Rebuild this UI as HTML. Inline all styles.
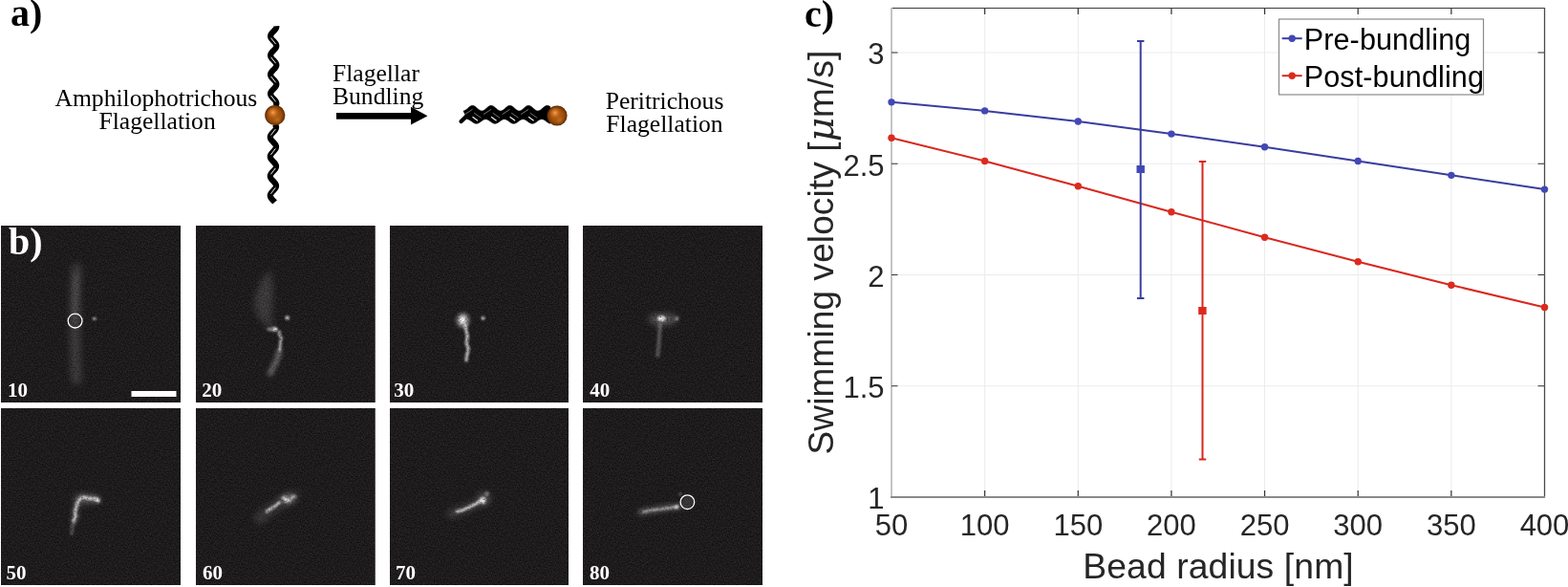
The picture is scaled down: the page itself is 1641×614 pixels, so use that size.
<!DOCTYPE html><html><head><meta charset="utf-8"><style>html,body{margin:0;padding:0;background:#fff}body{width:1641px;height:614px;overflow:hidden;position:relative}svg{position:absolute;left:0;top:0}.ser{font-family:"Liberation Serif","Times New Roman",serif}.san{font-family:"Liberation Sans",Arial,sans-serif}</style></head><body>
<svg width="1641" height="614" viewBox="0 0 1641 614">
<defs><radialGradient id="bead" cx="0.5" cy="0.5" r="0.5"><stop offset="0" stop-color="#b25c12"/><stop offset="0.6" stop-color="#a2500c"/><stop offset="0.85" stop-color="#7e3c06"/><stop offset="1" stop-color="#4e2404"/></radialGradient><radialGradient id="beadhl" cx="0.4" cy="0.36" r="0.3"><stop offset="0" stop-color="#f7a454" stop-opacity="1"/><stop offset="0.5" stop-color="#dd8236" stop-opacity="0.55"/><stop offset="1" stop-color="#c86818" stop-opacity="0"/></radialGradient><radialGradient id="beadlo" cx="0.62" cy="0.72" r="0.22"><stop offset="0" stop-color="#c87a30" stop-opacity="0.6"/><stop offset="1" stop-color="#c87a30" stop-opacity="0"/></radialGradient><filter id="b1" filterUnits="userSpaceOnUse" x="0" y="0" width="1641" height="614"><feGaussianBlur stdDeviation="1"/></filter><filter id="b1s" filterUnits="userSpaceOnUse" x="0" y="0" width="1641" height="614"><feGaussianBlur stdDeviation="0.6"/></filter><filter id="grain" filterUnits="userSpaceOnUse" x="0" y="236" width="800" height="378" color-interpolation-filters="sRGB"><feTurbulence type="fractalNoise" baseFrequency="0.55" numOctaves="2" seed="11" result="t"/><feColorMatrix in="t" type="matrix" values="0 0 0 0 0  0 0 0 0 0  0 0 0 0 0  1.5 0 0 0 0.22" result="m"/><feComposite in="SourceGraphic" in2="m" operator="in"/></filter><filter id="b2" filterUnits="userSpaceOnUse" x="0" y="0" width="1641" height="614"><feGaussianBlur stdDeviation="2"/></filter><filter id="b3" filterUnits="userSpaceOnUse" x="0" y="0" width="1641" height="614"><feGaussianBlur stdDeviation="3.5"/></filter><filter id="b5" filterUnits="userSpaceOnUse" x="0" y="0" width="1641" height="614"><feGaussianBlur stdDeviation="5"/></filter><filter id="noise" color-interpolation-filters="sRGB" x="0" y="0" width="100%" height="100%"><feTurbulence type="fractalNoise" baseFrequency="0.7" numOctaves="2" seed="7"/><feColorMatrix values="0.18 0 0 0 0.025  0.18 0 0 0 0.017  0.18 0 0 0 0.017  0 0 0 0 1"/><feComposite in2="SourceGraphic" operator="in"/></filter></defs>
<g class="ser" fill="#000">
<text x="11" y="27" font-size="40" font-weight="bold">a)</text>
<text x="163.4" y="110.5" font-size="25.6" text-anchor="middle">Amphilophotrichous</text>
<text x="164.6" y="134.5" font-size="25.6" text-anchor="middle">Flagellation</text>
<text x="348" y="85" font-size="25.6">Flagellar</text>
<text x="348" y="109.2" font-size="25.6">Bundling</text>
<text x="695.5" y="114.2" font-size="25.6" text-anchor="middle">Peritrichous</text>
<text x="695.5" y="138.4" font-size="25.6" text-anchor="middle">Flagellation</text>
</g>
<path d="M289.26,27.3 L289.3,27.72 L289.28,28.14 L289.21,28.56 L289.09,28.97 L288.92,29.39 L288.71,29.81 L288.45,30.23 L288.15,30.65 L287.82,31.07 L287.46,31.48 L287.08,31.9 L286.69,32.32 L286.28,32.74 L285.88,33.16 L285.48,33.58 L285.09,34 L284.72,34.41 L284.38,34.83 L284.07,35.25 L283.79,35.67 L283.56,36.09 L283.37,36.51 L283.23,36.93 L283.14,37.34 L283.1,37.76 L283.12,38.18 L283.18,38.6 L283.3,39.02 L283.47,39.44 L283.69,39.86 L283.95,40.27 L284.24,40.69 L284.58,41.11 L284.93,41.53 L285.31,41.95 L285.71,42.37 L286.11,42.78 L286.52,43.2 L286.92,43.62 L287.3,44.04 L287.67,44.46 L288.02,44.88 L288.33,45.3 L288.6,45.71 L288.84,46.13 L289.03,46.55 L289.17,46.97 L289.26,47.39 L289.3,47.81 L289.28,48.23 L289.22,48.64 L289.1,49.06 L288.93,49.48 L288.71,49.9 L288.46,50.32 L288.16,50.74 L287.83,51.15 L287.47,51.57 L287.09,51.99 L286.7,52.41 L286.29,52.83 L285.89,53.25 L285.49,53.67 L285.1,54.08 L284.73,54.5 L284.39,54.92 L284.08,55.34 L283.8,55.76 L283.56,56.18 L283.37,56.59 L283.23,57.01 L283.14,57.43 L283.1,57.85 L283.12,58.27 L283.18,58.69 L283.3,59.11 L283.47,59.52 L283.68,59.94 L283.94,60.36 L284.24,60.78 L284.57,61.2 L284.92,61.62 L285.3,62.04 L285.7,62.45 L286.1,62.87 L286.51,63.29 L286.91,63.71 L287.29,64.13 L287.66,64.55 L288.01,64.97 L288.32,65.38 L288.6,65.8 L288.83,66.22 L289.02,66.64 L289.17,67.06 L289.26,67.48 L289.3,67.89 L289.29,68.31 L289.22,68.73 L289.1,69.15 L288.93,69.57 L288.72,69.99 L288.46,70.41 L288.17,70.82 L287.84,71.24 L287.48,71.66 L287.1,72.08 L286.71,72.5 L286.31,72.92 L285.9,73.33 L285.5,73.75 L285.11,74.17 L284.74,74.59 L284.4,75.01 L284.08,75.43 L283.81,75.85 L283.57,76.26 L283.38,76.68 L283.24,77.1 L283.14,77.52 L283.1,77.94 L283.11,78.36 L283.18,78.78 L283.3,79.19 L283.46,79.61 L283.68,80.03 L283.93,80.45 L284.23,80.87 L284.56,81.29 L284.91,81.7 L285.29,82.12 L285.69,82.54 L286.09,82.96 L286.49,83.38 L286.89,83.8 L287.28,84.22 L287.65,84.63 L288,85.05 L288.31,85.47 L288.59,85.89 L288.83,86.31 L289.02,86.73 L289.16,87.15 L289.26,87.56 L289.3,87.98 L289.29,88.4 L289.22,88.82 L289.11,89.24 L288.94,89.66 L288.73,90.08 L288.47,90.49 L288.18,90.91 L287.85,91.33 L287.49,91.75 L287.11,92.17 L286.72,92.59 L286.32,93 L285.91,93.42 L285.51,93.84 L285.12,94.26 L284.75,94.68 L284.41,95.1 L284.09,95.52 L283.81,95.93 L283.58,96.35 L283.38,96.77 L283.24,97.19 L283.14,97.61 L283.1,98.03 L283.11,98.44 L283.18,98.86 L283.29,99.28 L283.46,99.7 L283.67,100.12 L283.92,100.54 L284.22,100.96 L284.55,101.37 L284.9,101.79 L285.28,102.21 L285.67,102.63 L286.08,103.05 L286.48,103.47 L286.88,103.89 L287.27,104.3 L287.64,104.72 L287.99,105.14 L288.3,105.56 L288.58,105.98 L288.82,106.4 L289.01,106.81 L289.16,107.23 L289.25,107.65 L289.3,108.07 L289.29,108.49 L289.22,108.91 L289.11,109.33 L288.95,109.74 L288.73,110.16 L288.48,110.58 L288.19,111" fill="none" stroke="#000" stroke-width="6.2"/>
<path d="M287.61,130 L287.92,130.41 L288.2,130.81 L288.44,131.22 L288.64,131.63 L288.8,132.04 L288.92,132.44 L288.98,132.85 L289,133.26 L288.97,133.67 L288.89,134.07 L288.76,134.48 L288.59,134.89 L288.38,135.3 L288.12,135.71 L287.83,136.11 L287.52,136.52 L287.17,136.93 L286.81,137.34 L286.43,137.74 L286.04,138.15 L285.65,138.56 L285.27,138.97 L284.89,139.37 L284.54,139.78 L284.2,140.19 L283.89,140.59 L283.61,141 L283.36,141.41 L283.16,141.82 L283,142.22 L282.89,142.63 L282.82,143.04 L282.8,143.45 L282.83,143.85 L282.91,144.26 L283.03,144.67 L283.2,145.08 L283.42,145.49 L283.67,145.89 L283.96,146.3 L284.27,146.71 L284.62,147.12 L284.98,147.52 L285.36,147.93 L285.74,148.34 L286.13,148.75 L286.52,149.15 L286.89,149.56 L287.25,149.97 L287.59,150.38 L287.9,150.78 L288.18,151.19 L288.43,151.6 L288.63,152 L288.79,152.41 L288.91,152.82 L288.98,153.23 L289,153.63 L288.97,154.04 L288.89,154.45 L288.77,154.86 L288.6,155.26 L288.39,155.67 L288.14,156.08 L287.85,156.49 L287.54,156.9 L287.19,157.3 L286.83,157.71 L286.45,158.12 L286.07,158.53 L285.68,158.93 L285.29,159.34 L284.92,159.75 L284.56,160.16 L284.22,160.56 L283.9,160.97 L283.62,161.38 L283.38,161.78 L283.17,162.19 L283.01,162.6 L282.89,163.01 L282.82,163.41 L282.8,163.82 L282.83,164.23 L282.9,164.64 L283.03,165.05 L283.19,165.45 L283.4,165.86 L283.65,166.27 L283.94,166.68 L284.25,167.08 L284.6,167.49 L284.96,167.9 L285.34,168.31 L285.72,168.71 L286.11,169.12 L286.5,169.53 L286.87,169.94 L287.23,170.34 L287.57,170.75 L287.89,171.16 L288.17,171.56 L288.41,171.97 L288.62,172.38 L288.79,172.79 L288.91,173.19 L288.98,173.6 L289,174.01 L288.97,174.42 L288.9,174.82 L288.78,175.23 L288.61,175.64 L288.4,176.05 L288.16,176.45 L287.87,176.86 L287.56,177.27 L287.22,177.68 L286.85,178.09 L286.48,178.49 L286.09,178.9 L285.7,179.31 L285.32,179.72 L284.94,180.12 L284.58,180.53 L284.24,180.94 L283.92,181.34 L283.64,181.75 L283.39,182.16 L283.18,182.57 L283.02,182.97 L282.9,183.38 L282.82,183.79 L282.8,184.2 L282.82,184.6 L282.9,185.01 L283.02,185.42 L283.18,185.83 L283.39,186.24 L283.64,186.64 L283.92,187.05 L284.23,187.46 L284.57,187.87 L284.94,188.27 L285.31,188.68 L285.7,189.09 L286.09,189.5 L286.47,189.9 L286.85,190.31 L287.21,190.72 L287.55,191.12 L287.87,191.53 L288.15,191.94 L288.4,192.35 L288.61,192.75 L288.78,193.16 L288.9,193.57 L288.97,193.98 L289,194.38 L288.98,194.79 L288.91,195.2 L288.79,195.61 L288.62,196.01 L288.42,196.42 L288.17,196.83 L287.89,197.24 L287.58,197.64 L287.24,198.05 L286.88,198.46 L286.5,198.87 L286.11,199.28 L285.73,199.68 L285.34,200.09 L284.96,200.5 L284.6,200.91 L284.26,201.31 L283.94,201.72 L283.66,202.13 L283.41,202.53 L283.2,202.94 L283.03,203.35 L282.9,203.76 L282.83,204.17 L282.8,204.57 L282.82,204.98 L282.89,205.39 L283.01,205.8 L283.17,206.2 L283.38,206.61 L283.62,207.02 L283.9,207.43 L284.21,207.83 L284.55,208.24 L284.91,208.65 L285.29,209.06 L285.67,209.46 L286.06,209.87 L286.45,210.28 L286.83,210.69 L287.19,211.09 L287.53,211.5" fill="none" stroke="#000" stroke-width="6.2"/>
<path d="M283.6,39.7 L288.6,46.1 M283.6,59.8 L288.6,66.2 M283.6,79.9 L288.6,86.3 M283.6,100 L288.6,106.4 M288.3,135.1 L283.4,141.5 M288.3,155.5 L283.4,161.9 M288.3,175.9 L283.4,182.3 M288.3,196.3 L283.4,202.7" stroke="#fff" stroke-width="1" fill="none" opacity="0.95"/>
<g><circle cx="287.8" cy="120.6" r="10.6" fill="url(#bead)"/><circle cx="287.8" cy="120.6" r="10.6" fill="url(#beadlo)"/><circle cx="287.8" cy="120.6" r="10.6" fill="url(#beadhl)"/></g>
<rect x="352" y="118" width="79" height="6.7" fill="#000"/>
<polygon points="430,111.7 447.5,121.3 430,130.5" fill="#000"/>
<path d="M485,115.99 L485.76,115.85 L486.52,115.55 L487.27,115.11 L488.03,114.56 L488.79,113.93 L489.55,113.26 L490.31,112.58 L491.07,111.94 L491.82,111.37 L492.58,110.91 L493.34,110.59 L494.1,110.42 L494.86,110.42 L495.62,110.58 L496.38,110.89 L497.13,111.34 L497.89,111.91 L498.65,112.54 L499.41,113.22 L500.17,113.89 L500.93,114.53 L501.68,115.08 L502.44,115.53 L503.2,115.83 L503.96,115.99 L504.72,115.97 L505.48,115.79 L506.23,115.46 L506.99,115 L507.75,114.43 L508.51,113.78 L509.27,113.11 L510.02,112.43 L510.78,111.81 L511.54,111.26 L512.3,110.83 L513.06,110.54 L513.82,110.41 L514.58,110.44 L515.33,110.63 L516.09,110.98 L516.85,111.46 L517.61,112.04 L518.37,112.69 L519.12,113.37 L519.88,114.04 L520.64,114.66 L521.4,115.19 L522.16,115.61 L522.92,115.88 L523.67,116 L524.43,115.95 L525.19,115.73 L525.95,115.37 L526.71,114.88 L527.47,114.29 L528.23,113.64 L528.98,112.96 L529.74,112.29 L530.5,111.68 L531.26,111.16 L532.02,110.75 L532.77,110.5 L533.53,110.4 L534.29,110.47 L535.05,110.7 L535.81,111.08 L536.57,111.58 L537.33,112.18 L538.08,112.84 L538.84,113.52 L539.6,114.18 L540.36,114.78 L541.12,115.29 L541.88,115.68 L542.63,115.92 L543.39,116 L544.15,115.91 L544.91,115.67 L545.67,115.27 L546.42,114.76 L547.18,114.15 L547.94,113.49 L548.7,112.81 L549.46,112.15 L550.22,111.55 L550.98,111.06 L551.73,110.69 L552.49,110.46 L553.25,110.4 L554.01,110.51 L554.77,110.77 L555.52,111.18 L556.28,111.7 L557.04,112.32 L557.8,112.99 L558.56,113.67 L559.32,114.32 L560.08,114.91 L560.83,115.39 L561.59,115.75 L562.35,115.95 L563.11,116 L563.87,115.87 L564.62,115.59 L565.38,115.17 L566.14,114.63 L566.9,114.01 L567.66,113.34 L568.42,112.66 L569.17,112.01 L569.93,111.44 L570.69,110.96 L571.45,110.62 L572.21,110.43 L572.97,110.41 L573.73,110.55 L574.48,110.85 L575.24,111.28 L576,111.83 L576,129.24 L575.27,129.06 L574.55,128.77 L573.83,128.39 L573.1,127.92 L572.38,127.41 L571.65,126.88 L570.92,126.35 L570.2,125.86 L569.48,125.43 L568.75,125.08 L568.02,124.84 L567.3,124.72 L566.58,124.71 L565.85,124.84 L565.12,125.07 L564.4,125.42 L563.67,125.84 L562.95,126.34 L562.23,126.86 L561.5,127.4 L560.77,127.91 L560.05,128.37 L559.33,128.76 L558.6,129.05 L557.88,129.24 L557.15,129.3 L556.42,129.24 L555.7,129.05 L554.98,128.76 L554.25,128.37 L553.52,127.91 L552.8,127.4 L552.08,126.86 L551.35,126.34 L550.62,125.84 L549.9,125.42 L549.17,125.07 L548.45,124.84 L547.73,124.71 L547,124.72 L546.27,124.84 L545.55,125.08 L544.83,125.43 L544.1,125.86 L543.38,126.35 L542.65,126.88 L541.92,127.41 L541.2,127.92 L540.48,128.39 L539.75,128.77 L539.02,129.06 L538.3,129.24 L537.58,129.3 L536.85,129.23 L536.12,129.05 L535.4,128.75 L534.67,128.36 L533.95,127.89 L533.23,127.38 L532.5,126.84 L531.77,126.32 L531.05,125.83 L530.33,125.4 L529.6,125.06 L528.88,124.83 L528.15,124.71 L527.42,124.72 L526.7,124.85 L525.98,125.09 L525.25,125.44 L524.52,125.88 L523.8,126.37 L523.08,126.9 L522.35,127.43 L521.62,127.94 L520.9,128.4 L520.17,128.78 L519.45,129.07 L518.73,129.25 L518,129.3 L517.27,129.23 L516.55,129.04 L515.83,128.74 L515.1,128.34 L514.38,127.87 L513.65,127.36 L512.92,126.82 L512.2,126.3 L511.48,125.81 L510.75,125.39 L510.02,125.05 L509.3,124.82 L508.57,124.71 L507.85,124.72 L507.12,124.86 L506.4,125.11 L505.68,125.46 L504.95,125.89 L504.23,126.39 L503.5,126.92 L502.77,127.45 L502.05,127.96 L501.32,128.42 L500.6,128.8 L499.88,129.08 L499.15,129.25 L498.43,129.3 L497.7,129.22 L496.98,129.03 L496.25,128.72 L495.52,128.33 L494.8,127.86 L494.07,127.34 L493.35,126.81 L492.62,126.28 L491.9,125.8 L491.18,125.38 L490.45,125.04 L489.73,124.82 L489,124.71Z" fill="#000" stroke="#000" stroke-width="0.6" stroke-linejoin="round"/>
<path d="M482.6,127 L488.5,121.3" stroke="#000" stroke-width="4.4" stroke-linecap="round" fill="none"/>
<path d="M486.5,119.6 L494.5,114.4 M496.2,118.2 L503.5,123.3 M506.05,119.6 L514.05,114.4 M515.75,118.2 L523.05,123.3 M525.6,119.6 L533.6,114.4 M535.3,118.2 L542.6,123.3 M545.15,119.6 L553.15,114.4 M554.85,118.2 L562.15,123.3" stroke="#fff" stroke-width="0.6" fill="none" opacity="0.75"/>
<path d="M494.5,122.3 L500,126.2 M514.05,122.3 L519.55,126.2 M533.6,122.3 L539.1,126.2 M553.15,122.3 L558.65,126.2" stroke="#fff" stroke-width="1.2" fill="none" opacity="0.95"/>
<g><circle cx="583" cy="121" r="10.6" fill="url(#bead)"/><circle cx="583" cy="121" r="10.6" fill="url(#beadlo)"/><circle cx="583" cy="121" r="10.6" fill="url(#beadhl)"/></g>
<rect x="1" y="236" width="188" height="185" fill="#201e1e"/>
<rect x="205" y="236" width="187.5" height="185" fill="#201e1e"/>
<rect x="408" y="236" width="187" height="185" fill="#201e1e"/>
<rect x="610" y="236" width="188" height="185" fill="#201e1e"/>
<rect x="1" y="427" width="188" height="185" fill="#201e1e"/>
<rect x="205" y="427" width="187.5" height="185" fill="#201e1e"/>
<rect x="408" y="427" width="187" height="185" fill="#201e1e"/>
<rect x="610" y="427" width="188" height="185" fill="#201e1e"/>
<g>
<rect x="1" y="236" width="188" height="185" fill="#fff" filter="url(#noise)"/>
<rect x="205" y="236" width="187.5" height="185" fill="#fff" filter="url(#noise)"/>
<rect x="408" y="236" width="187" height="185" fill="#fff" filter="url(#noise)"/>
<rect x="610" y="236" width="188" height="185" fill="#fff" filter="url(#noise)"/>
<rect x="1" y="427" width="188" height="185" fill="#fff" filter="url(#noise)"/>
<rect x="205" y="427" width="187.5" height="185" fill="#fff" filter="url(#noise)"/>
<rect x="408" y="427" width="187" height="185" fill="#fff" filter="url(#noise)"/>
<rect x="610" y="427" width="188" height="185" fill="#fff" filter="url(#noise)"/>
</g>
<g filter="url(#grain)"><path d="M80,281 Q77,336 80,397" stroke="#fff" stroke-width="11" stroke-linecap="round" fill="none" opacity="0.15" filter="url(#b3)"/><path d="M79.5,290 Q78,320 78.5,336" stroke="#fff" stroke-width="7" stroke-linecap="round" fill="none" opacity="0.07" filter="url(#b2)"/><ellipse cx="98.8" cy="333.4" rx="2" ry="1.4" fill="#fff" opacity="0.75" filter="url(#b1)"/><path d="M283,282 C287,295 286,320 284,334 L288,345 C279,343 268,334 266,318 C266,303 275,290 283,282Z" fill="#fff" opacity="0.14" filter="url(#b3)"/><ellipse cx="285" cy="344.4" rx="6" ry="2.2" fill="#fff" opacity="0.45" filter="url(#b1)"/><circle cx="288" cy="344.4" r="2.2" fill="#fff" opacity="0.85" filter="url(#b1)"/><circle cx="300.7" cy="332.4" r="2.2" fill="#fff" opacity="0.8" filter="url(#b1)"/><path d="M293.3,346 Q291.5,349 292.3,350.3 Q295,353 294.4,354.6 Q293,358 293.3,361 Q293,364 292.3,367.3" stroke="#fff" stroke-width="2.6" fill="none" opacity="0.7" filter="url(#b1)"/><path d="M292.3,367 Q291.5,372 290,376 Q287,382 282.8,390.5" stroke="#fff" stroke-width="6" stroke-linecap="round" fill="none" opacity="0.32" filter="url(#b2)"/><ellipse cx="484.5" cy="335" rx="6.5" ry="7.5" fill="#fff" opacity="0.6" filter="url(#b2)"/><ellipse cx="484" cy="334.5" rx="3" ry="3.6" fill="#fff" opacity="0.9" filter="url(#b1)"/><circle cx="505.6" cy="332.8" r="2" fill="#fff" opacity="0.8" filter="url(#b1)"/><path d="M487,340 Q488,346 488.5,349 Q490,352 488.5,356 Q487.5,360 490,363.5 Q490.5,367 489,370 Q488,374 488,377" stroke="#fff" stroke-width="3.4" stroke-linecap="round" fill="none" opacity="0.72" filter="url(#b1)"/><ellipse cx="694" cy="334" rx="15" ry="5.5" fill="#fff" opacity="0.3" filter="url(#b3)"/><ellipse cx="692.4" cy="333.2" rx="4" ry="3" fill="#fff" opacity="0.9" filter="url(#b1)"/><circle cx="708.3" cy="333.2" r="1.8" fill="#fff" opacity="0.6" filter="url(#b1)"/><path d="M690.7,340 Q690,356 688.4,372" stroke="#fff" stroke-width="4.5" stroke-linecap="round" fill="none" opacity="0.25" filter="url(#b1)"/><ellipse cx="90" cy="522" rx="14" ry="6" fill="#fff" opacity="0.16" filter="url(#b3)"/><path d="M102.9,523.4 C99,520 94,522 91.5,521.5 C88,519 84,520 82,524.5 C80,527 80,530 79.5,532 C78.5,534 78,536 79.3,539.5 C79,541 77.6,542 77.2,545" stroke="#fff" stroke-width="7" stroke-linecap="round" fill="none" opacity="0.22" filter="url(#b2)"/><path d="M102.9,523.4 C99,520 94,522 91.5,521.5 C88,519 84,520 82,524.5 C80,527 80,530 79.5,532 C78.5,534 78,536 79.3,539.5 C79,541 77.6,542 77.2,545" stroke="#fff" stroke-width="2.6" stroke-linecap="round" fill="none" opacity="0.8" filter="url(#b1)"/><circle cx="102" cy="523.3" r="2.2" fill="#fff" opacity="0.6" filter="url(#b1)"/><path d="M77.2,545 Q75.5,551 75,558" stroke="#fff" stroke-width="4" stroke-linecap="round" fill="none" opacity="0.22" filter="url(#b1)"/><path d="M272,542 Q283,533 292,527 Q300,521 308,519" stroke="#fff" stroke-width="12" stroke-linecap="round" fill="none" opacity="0.13" filter="url(#b3)"/><ellipse cx="301" cy="522" rx="8" ry="6" fill="#fff" opacity="0.22" filter="url(#b2)"/><path d="M279,535 Q283,532.5 286,530.5 Q290,528 292.5,525.5" stroke="#fff" stroke-width="3" stroke-linecap="round" fill="none" opacity="0.75" filter="url(#b1)"/><path d="M296,521 Q298,519 300,523 Q302,526 305,521 Q307,518 309,519.5" stroke="#fff" stroke-width="2.6" stroke-linecap="round" fill="none" opacity="0.6" filter="url(#b1)"/><ellipse cx="299.5" cy="523" rx="2.6" ry="2.2" fill="#fff" opacity="0.6" filter="url(#b1)"/><path d="M472,537.6 Q482,534 490,531 Q498,527 506,523" stroke="#fff" stroke-width="9" stroke-linecap="round" fill="none" opacity="0.16" filter="url(#b3)"/><ellipse cx="507" cy="521" rx="7" ry="7" fill="#fff" opacity="0.18" filter="url(#b3)"/><path d="M478,535 Q484,534.5 489,531.5 Q494,529 498,527 Q502,524.5 504,522.5" stroke="#fff" stroke-width="2.8" stroke-linecap="round" fill="none" opacity="0.8" filter="url(#b1)"/><ellipse cx="505.5" cy="523.5" rx="2.8" ry="3.8" fill="#fff" opacity="0.8" filter="url(#b1)"/><circle cx="509.5" cy="516.5" r="2.4" fill="#fff" opacity="0.35" filter="url(#b1)"/><path d="M671,535.8 Q690,532.5 700,530.7 Q705,530 710,530" stroke="#fff" stroke-width="8" stroke-linecap="round" fill="none" opacity="0.2" filter="url(#b2)"/><path d="M673,535.5 Q683.5,533.2 692.3,532.5 Q700,531 708,530.3" stroke="#fff" stroke-width="2.2" stroke-linecap="round" fill="none" opacity="0.65" filter="url(#b1)"/><circle cx="708.4" cy="530.3" r="2" fill="#fff" opacity="0.8" filter="url(#b1)"/><circle cx="712" cy="516.7" r="1.5" fill="#fff" opacity="0.4" filter="url(#b1)"/><circle cx="719.4" cy="525.2" r="6.8" fill="#fff" opacity="0.12" filter="url(#b1)"/></g><circle cx="78.6" cy="335.6" r="7.4" fill="none" stroke="#fff" stroke-width="1.3"/><circle cx="719.4" cy="525.2" r="7.3" fill="none" stroke="#fff" stroke-width="1.3"/>
<rect x="137.5" y="409" width="47" height="6" fill="#fff"/>
<g class="ser" fill="#fff" font-weight="bold">
<text x="9" y="266" font-size="40">b)</text>
<text x="8.1" y="415" font-size="21">10</text>
<text x="211.3" y="415" font-size="21">20</text>
<text x="412.3" y="415" font-size="21">30</text>
<text x="617.3" y="415" font-size="21">40</text>
<text x="6.4" y="606" font-size="21">50</text>
<text x="211.9" y="606" font-size="21">60</text>
<text x="413.9" y="606" font-size="21">70</text>
<text x="616.9" y="606" font-size="21">80</text>
</g>
<g>
<path d="M933,8.5 V520 M1030.64,8.5 V520 M1128.29,8.5 V520 M1225.93,8.5 V520 M1323.57,8.5 V520 M1421.21,8.5 V520 M1518.86,8.5 V520 M1616.5,8.5 V520 M933,520 H1616.5 M933,403.75 H1616.5 M933,287.5 H1616.5 M933,171.25 H1616.5 M933,55 H1616.5" stroke="#ebebeb" stroke-width="1" fill="none"/>
<path d="M932.5,8.5 H1616.5" stroke="#3a3a3a" stroke-width="1.2" fill="none"/>
<path d="M1616.5,8 V520.5" stroke="#4a4a4a" stroke-width="1.3" fill="none"/>
<path d="M933,8 V521" stroke="#c4c4c4" stroke-width="2" fill="none"/>
<path d="M932,520 H1617" stroke="#8a8a8a" stroke-width="2" fill="none"/>
<path d="M1030.64,519 V513 M1030.64,9 V15 M1128.29,519 V513 M1128.29,9 V15 M1225.93,519 V513 M1225.93,9 V15 M1323.57,519 V513 M1323.57,9 V15 M1421.21,519 V513 M1421.21,9 V15 M1518.86,519 V513 M1518.86,9 V15 M933,403.75 H939.5 M1616,403.75 H1609.5 M933,287.5 H939.5 M1616,287.5 H1609.5 M933,171.25 H939.5 M1616,171.25 H1609.5 M933,55 H939.5 M1616,55 H1609.5" stroke="#333" stroke-width="1.2" fill="none"/>
</g>
<path d="M933,106.85 L1030.64,115.92 L1128.29,127.07 L1225.93,140.1 L1323.57,153.7 L1421.21,168.46 L1518.86,183.34 L1616.5,198.1" stroke="#3a3d9e" stroke-width="2" fill="none"/>
<path d="M933,144.28 L1030.64,168.46 L1128.29,194.73 L1225.93,221.7 L1323.57,248.21 L1421.21,273.78 L1518.86,298.2 L1616.5,321.44" stroke="#d8281e" stroke-width="2" fill="none"/>
<circle cx="933" cy="106.85" r="3.7" fill="#4248b4"/><circle cx="1030.64" cy="115.92" r="3.7" fill="#4248b4"/><circle cx="1128.29" cy="127.07" r="3.7" fill="#4248b4"/><circle cx="1225.93" cy="140.1" r="3.7" fill="#4248b4"/><circle cx="1323.57" cy="153.7" r="3.7" fill="#4248b4"/><circle cx="1421.21" cy="168.46" r="3.7" fill="#4248b4"/><circle cx="1518.86" cy="183.34" r="3.7" fill="#4248b4"/><circle cx="1616.5" cy="198.1" r="3.7" fill="#4248b4"/>
<circle cx="933" cy="144.28" r="3.7" fill="#dc2a1e"/><circle cx="1030.64" cy="168.46" r="3.7" fill="#dc2a1e"/><circle cx="1128.29" cy="194.73" r="3.7" fill="#dc2a1e"/><circle cx="1225.93" cy="221.7" r="3.7" fill="#dc2a1e"/><circle cx="1323.57" cy="248.21" r="3.7" fill="#dc2a1e"/><circle cx="1421.21" cy="273.78" r="3.7" fill="#dc2a1e"/><circle cx="1518.86" cy="298.2" r="3.7" fill="#dc2a1e"/><circle cx="1616.5" cy="321.44" r="3.7" fill="#dc2a1e"/>
<path d="M1193.7,43 V312 M1190,43 H1197.4 M1190,312 H1197.4" stroke="#3a3d9e" stroke-width="2" fill="none"/>
<rect x="1189.5" y="173" width="8.4" height="8" fill="#4248b4"/>
<path d="M1258.5,169 V480.6 M1254.8,169 H1262.2 M1254.8,480.6 H1262.2" stroke="#d8281e" stroke-width="2" fill="none"/>
<rect x="1254.2" y="321" width="8.4" height="8" fill="#dc2a1e"/>
<rect x="1338.5" y="20" width="214" height="79" fill="#fff" stroke="#8a8a8a" stroke-width="1.2"/>
<path d="M1341.7,40.2 H1362.7" stroke="#3a3d9e" stroke-width="2"/><circle cx="1352.2" cy="40.2" r="3.7" fill="#4248b4"/>
<path d="M1341.7,79.2 H1362.7" stroke="#d8281e" stroke-width="2"/><circle cx="1352.2" cy="79.2" r="3.7" fill="#dc2a1e"/>
<g class="san" fill="#000" font-size="30.6" letter-spacing="0.1">
<text x="1364.7" y="51.7">Pre-bundling</text>
<text x="1364.7" y="90.7">Post-bundling</text>
</g>
<g class="san" fill="#262626" font-size="31">
<text x="933" y="560" text-anchor="middle">50</text>
<text x="1030.64" y="560" text-anchor="middle">100</text>
<text x="1128.29" y="560" text-anchor="middle">150</text>
<text x="1225.93" y="560" text-anchor="middle">200</text>
<text x="1323.57" y="560" text-anchor="middle">250</text>
<text x="1421.21" y="560" text-anchor="middle">300</text>
<text x="1518.86" y="560" text-anchor="middle">350</text>
<text x="1616.5" y="560" text-anchor="middle">400</text>
<text x="925.5" y="532.4" text-anchor="end">1</text>
<text x="925.5" y="416.15" text-anchor="end">1.5</text>
<text x="925.5" y="299.9" text-anchor="end">2</text>
<text x="925.5" y="183.65" text-anchor="end">2.5</text>
<text x="925.5" y="67.4" text-anchor="end">3</text>
</g>
<text class="san" x="1275" y="605.3" font-size="37.3" letter-spacing="0.1" fill="#262626" text-anchor="middle">Bead radius [nm]</text>
<text class="san" transform="translate(871.5,264) rotate(-90)" font-size="37" letter-spacing="0.12" fill="#262626" text-anchor="middle">Swimming velocity [<tspan font-style="italic" font-family="DejaVu Serif" font-size="39">μ</tspan>m/s]</text>
<text class="ser" x="842" y="28" font-size="40" font-weight="bold" fill="#000">c)</text>
</svg></body></html>
